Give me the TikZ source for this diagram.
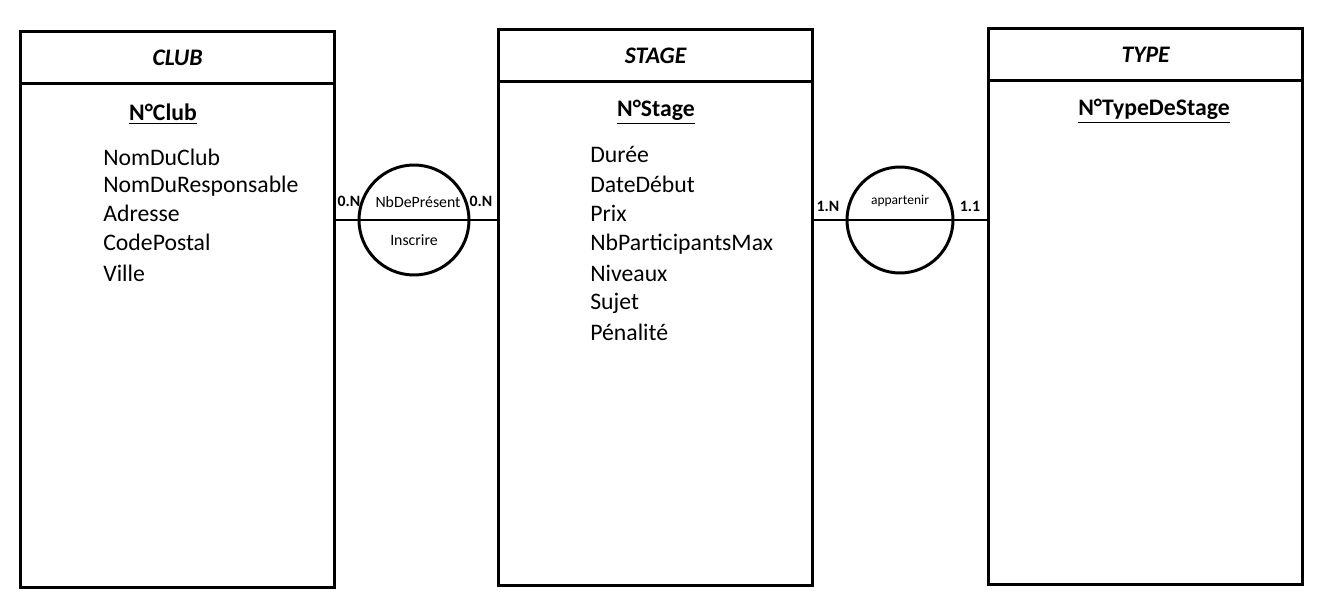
\documentclass[tikz,border=0pt]{standalone}
\usepackage{fontspec}
\setmainfont{Carlito}
\tikzset{
    entity/.style={draw, line width=1.9pt, inner sep=0pt, minimum width=6.28cm},
    head/.style={entity, minimum height=1.04cm, font=\fontsize{13.5}{15}\selectfont\bfseries\itshape},
    key/.style={font=\fontsize{13.5}{16}\selectfont\bfseries, inner sep=1pt},
    attr/.style={anchor=base west, font=\fontsize{13.5}{16}\selectfont, inner sep=0pt},
    asso/.style={draw, circle, line width=1.7pt, inner sep=0pt},
    card/.style={font=\fontsize{9}{11}\selectfont\bfseries, inner sep=0pt},
    small/.style={font=\fontsize{9}{11}\selectfont, inner sep=0pt},
}
\begin{document}
\begin{tikzpicture}[x=0.02cm, y=-0.02cm]
    \useasboundingbox (0,0) rectangle (1320,608);

    % entities
    \node[entity, minimum height=11.12cm, anchor=north west] (club) at (19,30) {};
    \node[head, anchor=north] (clubh) at (club.north) {CLUB};
    \node[entity, minimum height=11.12cm, anchor=north west] (stage) at (497,28) {};
    \node[head, anchor=north] (stageh) at (stage.north) {STAGE};
    \node[entity, minimum height=11.12cm, anchor=north west] (type) at (987,27) {};
    \node[head, anchor=north] (typeh) at (type.north) {TYPE};

    % CLUB
    \node[key] (kclub) at (163,114) {\underline{N°Club}};
    \node[attr] (c1) at (103,166) {NomDuClub};
    \node[attr] (c2) at (103,193) {NomDuResponsable};
    \node[attr] (c3) at (103,222) {Adresse};
    \node[attr] (c4) at (103,251) {CodePostal};
    \node[attr] (c5) at (103,281) {Ville};

    % STAGE
    \node[key] (kstage) at (656,112) {\underline{N°Stage}};
    \node[attr] (s1) at (590,163) {Durée};
    \node[attr] (s2) at (590,193) {DateDébut};
    \node[attr] (s3) at (590,222) {Prix};
    \node[attr] (s4) at (590,251) {NbParticipantsMax};
    \node[attr] (s5) at (590,281) {Niveaux};
    \node[attr] (s6) at (590,310) {Sujet};
    \node[attr] (s7) at (590,340) {Pénalité};

    % TYPE
    \node[key] (ktype) at (1154,111) {\underline{N°TypeDeStage}};

    % associations
    \node[asso, minimum size=2.2cm] (inscrire) at (414,220) {};
    \node[small] (insc) at (414,240) {Inscrire};
    \node[small] (nbp) at (418,202) {NbDePrésent};
    \draw[line width=1.7pt] (club.east |- inscrire) -- (stage.west |- inscrire);
    \node[card] (cc) at (349,201) {0.N};
    \node[card] (cs) at (481,201) {0.N};

    \node[asso, minimum size=2.12cm] (appartenir) at (900,220) {};
    \node[small, font=\fontsize{7.7}{9}\selectfont] (app) at (900,201) {appartenir};
    \draw[line width=1.7pt] (stage.east |- appartenir) -- (type.west |- appartenir);
    \node[card] (sa) at (828,206) {1.N};
    \node[card] (ta) at (970,206) {1.1};
\end{tikzpicture}
\end{document}
